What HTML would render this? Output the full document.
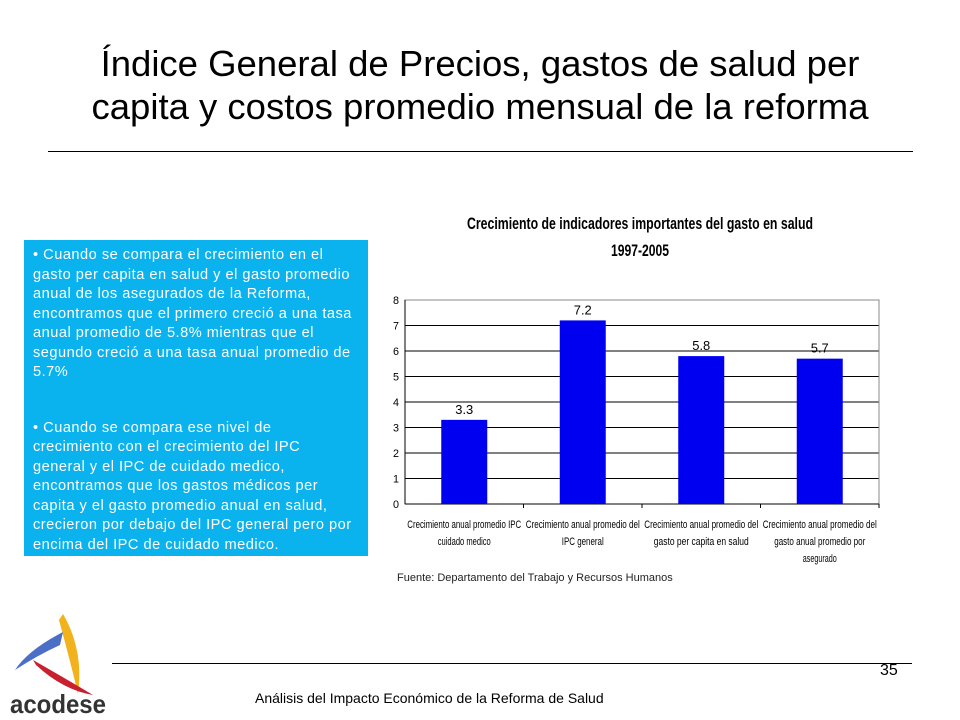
<!DOCTYPE html>
<html><head><meta charset="utf-8"><style>
body{margin:0;width:960px;height:720px;background:#fff;position:relative;font-family:"Liberation Sans",sans-serif;overflow:hidden}
.abs{position:absolute}
</style></head><body>
<div class="abs" style="left:0;top:42px;width:960px;text-align:center;font-size:36.5px;line-height:43px;color:#000">Índice General de Precios, gastos de salud per<br>capita y costos promedio mensual de la reforma</div>
<div class="abs" style="left:48px;top:151px;width:865px;height:1px;background:#000"></div>
<div class="abs" style="left:24px;top:240px;height:316px;background:#0ab2ee;color:#fff;font-size:14.6px;line-height:19.5px;letter-spacing:0.5px;padding:6px 0 0 9px;box-sizing:border-box;width:344px;white-space:nowrap">
• Cuando se compara el crecimiento en el<br>gasto per capita en salud y el gasto promedio<br>anual de los asegurados de la Reforma,<br>encontramos que el primero creció a una tasa<br>anual promedio de 5.8% mientras que el<br>segundo creció a una tasa anual promedio de<br>5.7%<div style="height:36px"></div>• Cuando se compara ese nivel de<br>crecimiento con el crecimiento del IPC<br>general y el IPC de cuidado medico,<br>encontramos que los gastos médicos per<br>capita y el gasto promedio anual en salud,<br>crecieron por debajo del IPC general pero por<br>encima del IPC de cuidado medico.</div>
<svg class="abs" style="left:0;top:0" width="960" height="720">
<text x="640" y="229" text-anchor="middle" font-size="17" font-weight="bold" textLength="346" lengthAdjust="spacingAndGlyphs">Crecimiento de indicadores importantes del gasto en salud</text>
<text x="640" y="256" text-anchor="middle" font-size="17" font-weight="bold" textLength="58" lengthAdjust="spacingAndGlyphs">1997-2005</text>
<g id="g"></g>
<text x="397" y="581" font-size="11" fill="#222">Fuente: Departamento del Trabajo y Recursos Humanos</text>
</svg>
<div class="abs" style="left:112px;top:663px;width:800px;height:1px;background:#000"></div>
<div class="abs" style="left:880px;top:662px;font-size:16px">35</div>
<div class="abs" style="left:255px;top:690px;font-size:14px">Análisis del Impacto Económico de la Reforma de Salud</div>
<svg class="abs" style="left:6px;top:610px" width="110" height="110">
<path d="M57 4 Q78 40 72 84 Q64 50 53 10Z" fill="#f2b21c"/>
<path d="M57 22 Q22 40 9 60 Q32 45 54 35Z" fill="#4b6fc7"/>
<path d="M27 50 Q62 70 87 85 Q57 80 30 55Z" fill="#c8202f"/>
<text x="4" y="103" font-size="26" font-weight="bold" fill="#333" textLength="96" lengthAdjust="spacingAndGlyphs">acodese</text>
</svg>
<script>
const categories=[["Crecimiento anual promedio IPC","cuidado medico"],["Crecimiento anual promedio del","IPC general"],["Crecimiento anual promedio del","gasto per capita en salud"],["Crecimiento anual promedio del","gasto anual promedio por","asegurado"]];
const values=[3.3,7.2,5.8,5.7];
const ticks=[0,1,2,3,4,5,6,7,8];
const NS="http://www.w3.org/2000/svg",g=document.getElementById('g');
const x0=405,x1=879,y0=504,y1=300,ymax=8;
const y=v=>y0-(v/ymax)*(y0-y1);
const cw=(x1-x0)/categories.length;
function el(t,a,txt){const e=document.createElementNS(NS,t);for(const k in a)e.setAttribute(k,a[k]);if(txt!=null)e.textContent=txt;g.appendChild(e);return e;}
ticks.forEach(t=>{
 if(t>0){const l=el('line',{x1:x0,x2:x1,y1:y(t),y2:y(t),stroke:'#000','stroke-width':1});
 
 }
 const tx=el('text',{x:x0-6,y:y(t)+4,'text-anchor':'end','font-size':11,textLength:6,lengthAdjust:'spacingAndGlyphs'},t);
 
 
});
el('rect',{x:x0,y:y1,width:x1-x0,height:y0-y1,fill:'none',stroke:'#888'});
el('line',{x1:x0,x2:x0,y1:y1,y2:y0,stroke:'#000'});
el('line',{x1:x0,x2:x1,y1:y0,y2:y0,stroke:'#000'});
values.forEach((v,i)=>{
 const cx=x0+cw*(i+0.5);
 const r=el('rect',{x:cx-23,y:y(v),width:46,height:y0-y(v),fill:'#0000f0'});
 
 
 const t=el('text',{x:cx,y:y(v)-6,'text-anchor':'middle','font-size':13,textLength:18,lengthAdjust:'spacingAndGlyphs'},v.toFixed(1));
 
 
 el('line',{x1:x0+cw*(i+1),x2:x0+cw*(i+1),y1:y0,y2:y0+4,stroke:'#000'});
 categories[i].forEach((s,j)=>{
  const c=el('text',{x:cx,y:y0+24+j*17,'text-anchor':'middle','font-size':11,textLength:Math.round(s.length*3.8),lengthAdjust:'spacingAndGlyphs'},s);
  
  
 });
});
</script>
</body></html>
